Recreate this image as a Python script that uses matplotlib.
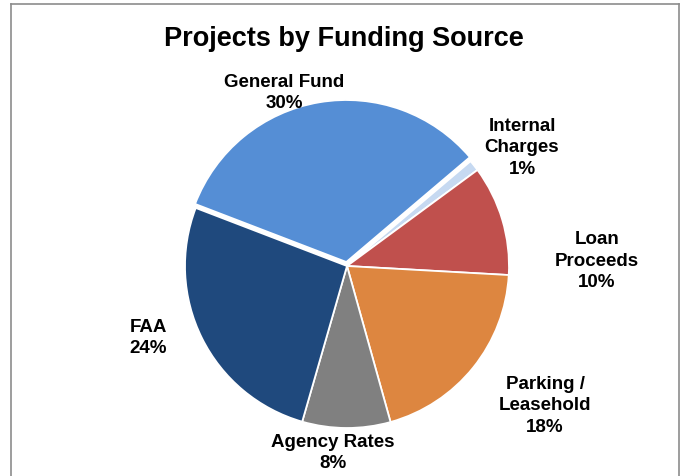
"""
Projects by Funding Source - pie chart.
"""
import matplotlib
matplotlib.use("Agg")
import matplotlib.pyplot as plt
from matplotlib.lines import Line2D

categories = ["General Fund", "Internal\nCharges", "Loan\nProceeds",
              "Parking /\nLeasehold", "Agency Rates", "FAA"]
values = [30, 1, 10, 18, 8, 24]
pct_labels = ["30%", "1%", "10%", "18%", "8%", "24%"]
colors = ["#558ED5", "#C6D9F1", "#C0504D", "#DD8640", "#808080", "#1F497D"]

W, H = 682, 477
CX, CY, R = 347, 267, 162  # pie centre / radius in pixels

plt.rcParams["font.family"] = ["Liberation Sans", "DejaVu Sans"]

fig = plt.figure(figsize=(W / 100, H / 100), dpi=100)
ax = fig.add_axes([(CX - R) / W, (H - CY - R) / H, 2 * R / W, 2 * R / H])
ax.pie(values, colors=colors, startangle=159, counterclock=False,
       explode=[0.025, 0, 0, 0, 0, 0],
       wedgeprops=dict(edgecolor="white", linewidth=1.3))
ax.set_xlim(-1, 1)
ax.set_ylim(-1, 1)
ax.set_aspect("auto")
ax.axis("off")

# label centres (pixels), Excel-style placement
label_px = [(284, 93), (522, 148), (597, 261), (545, 406), (333, 453), (148, 338)]
for name, pct, (px, py) in zip(categories, pct_labels, label_px):
    ax.text((px - CX) / R, (CY - py) / R, f"{name}\n{pct}", ha="center", va="center",
            fontsize=13.5, fontweight="bold", linespacing=1.38, clip_on=False)

fig.text(344 / W, (H - 46) / H, "Projects by Funding Source", ha="center",
         va="baseline", fontsize=19.5, fontweight="bold")

# chart area border (bottom edge is off the image)
bc = "#8c8c8c"
for xs, ys in [([11, 11], [H + 5, 5]), ([11, 679], [5, 5]), ([679, 679], [5, H + 5])]:
    fig.add_artist(Line2D([x / W for x in xs], [(H - y) / H for y in ys],
                          color=bc, linewidth=1.2, transform=fig.transFigure))

fig.savefig("out.png", dpi=100)
